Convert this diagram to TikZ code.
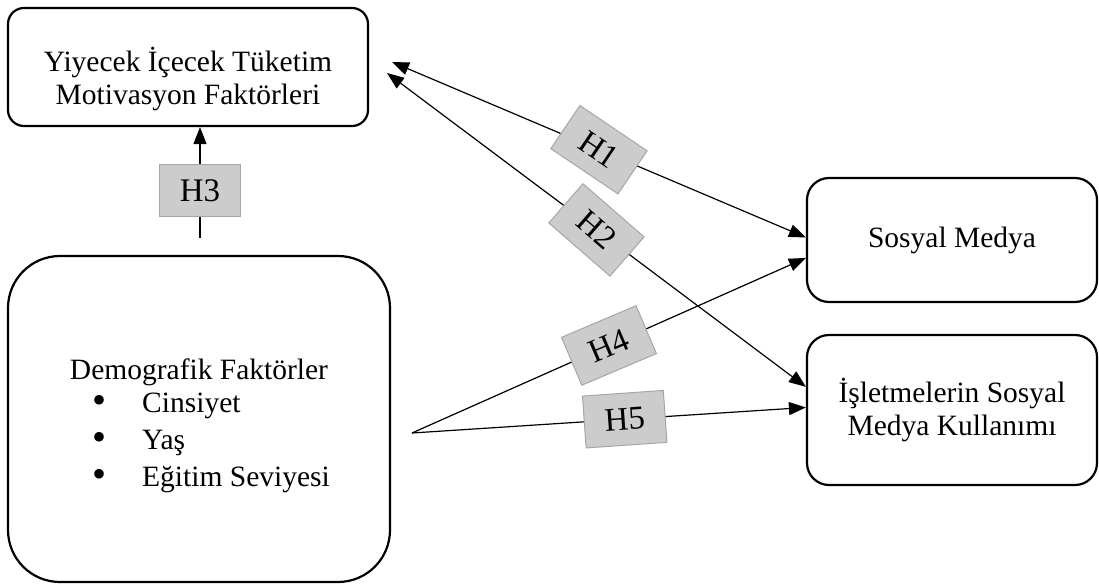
\documentclass[tikz,border=0pt]{standalone}
\usepackage{fontspec}
\setmainfont{Liberation Serif}
\usetikzlibrary{arrows.meta}
\begin{document}
\begin{tikzpicture}
  [x=1pt, y=-1pt, font=\fontsize{29.5}{33}\selectfont,
   box/.style={draw, line width=2.2pt, rounded corners=18pt, align=center, inner sep=0pt},
   lbl/.style={draw=black!35, fill=black!20, line width=1pt, minimum width=81pt, minimum height=52pt, inner sep=0pt, font=\fontsize{33}{36}\selectfont},
   link/.style={line width=1.2pt, -{Triangle[length=17pt,width=13pt]}},
   both/.style={line width=1.2pt, {Triangle[length=17pt,width=13pt]}-{Triangle[length=17pt,width=13pt]}}]
  \newcommand\itembul{\raisebox{-1pt}{\fontsize{40}{37}\selectfont\textbullet}\hspace{36pt}}
  \useasboundingbox (0,0) rectangle (1099,588);
  \node[box, minimum width=360pt, minimum height=118pt, rounded corners=16pt] (fm) at (188,67) {};
  \node[align=center] (fmt) at (188,79) {Yiyecek İçecek Tüketim\\Motivasyon Faktörleri};
  \node[box, minimum width=382pt, minimum height=326pt, rounded corners=52pt] (dm) at (199,419) {};
  \node (dmt) at (199,372) {Demografik Faktörler};
  \node[anchor=west, align=left, inner sep=0pt, font=\fontsize{29.5}{37}\selectfont] (dml) at (92,443)
    {\itembul Cinsiyet\\\itembul Yaş\\\itembul Eğitim Seviyesi};
  \node[box, minimum width=290pt, minimum height=124pt, rounded corners=22pt] (sm) at (952,240) {Sosyal Medya};
  \node[box, minimum width=290pt, minimum height=150pt, rounded corners=22pt] (im) at (952,410) {İşletmelerin Sosyal\\Medya Kullanımı};
  \coordinate (a1) at (392,62);
  \coordinate (a2) at (387,73);
  \coordinate (d0) at (412,433);
  \coordinate (h3b) at (200,238);
  \draw[both] (a1) -- node[lbl, rotate=-34] (h1) {H1} (sm.179);
  \draw[both] (a2) -- node[lbl, rotate=-41] (h2) {H2} (im.171);
  \draw[link] (h3b) -- node[lbl, pos=0.43] (h3) {H3} (fm.south -| h3b);
  \draw[link] (d0) -- node[lbl, rotate=23] (h4) {H4} (sm.187);
  \draw[link] (d0) -- node[lbl, rotate=4, pos=0.54] (h5) {H5} (im.179);
\end{tikzpicture}
\end{document}
